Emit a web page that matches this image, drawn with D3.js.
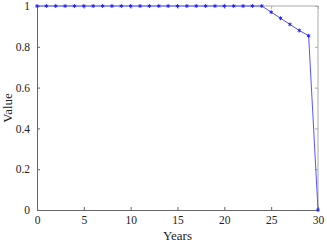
<!DOCTYPE html>
<html lang="en">
<head>
<meta charset="UTF-8">
<title>Value by year</title>
<style>
  body { margin: 0; background: #fff; }
  svg text { font-family: "Liberation Serif", "DejaVu Serif", serif !important; }
</style>
</head>
<body>
<svg width="327" height="242"></svg>
<script src="https://d3js.org/d3.v7.min.js"></script>
<script>
var years = d3.range(0, 31);
var values = [1, 1, 1, 1, 1, 1, 1, 1, 1, 1,
              1, 1, 1, 1, 1, 1, 1, 1, 1, 1,
              1, 1, 1, 1, 1, 0.97, 0.94, 0.91, 0.88, 0.854, 0];
var xTicks = [0, 5, 10, 15, 20, 25, 30];
var yTicks = [0, 0.2, 0.4, 0.6, 0.8, 1];

var marge = {top: 6, right: 9, bottom: 32, left: 37};
var svg = d3.select("svg");
var width = +svg.attr("width") - marge.left - marge.right;
var height = +svg.attr("height") - marge.top - marge.bottom;
var g = svg.append("g").attr("transform", "translate(" + marge.left + "," + marge.top + ")");

var x = d3.scaleLinear().domain([0, 30]).range([0, width]);
var y = d3.scaleLinear().domain([0, 1]).range([height, 0]);

// frame (top and right in grey)
g.append("line").attr("x1", 0).attr("x2", width).attr("y1", 0).attr("y2", 0)
  .attr("stroke", "#aaa");
g.append("line").attr("x1", width).attr("x2", width).attr("y1", 0).attr("y2", height)
  .attr("stroke", "#aaa");

// mirrored ticks
g.append("g").call(d3.axisTop(x).tickValues(xTicks).tickSize(-3).tickFormat(""))
  .call(function(a) { a.select(".domain").remove(); a.selectAll("line").attr("stroke", "#aaa"); });
g.append("g").attr("transform", "translate(" + width + ",0)")
  .call(d3.axisRight(y).tickValues(yTicks).tickSize(-3).tickFormat(""))
  .call(function(a) { a.select(".domain").remove(); a.selectAll("line").attr("stroke", "#aaa"); });

var xAxis = g.append("g").attr("transform", "translate(0," + height + ")")
  .call(d3.axisBottom(x).tickValues(xTicks).tickSize(-3).tickPadding(6).tickSizeOuter(0));
var yAxis = g.append("g")
  .call(d3.axisLeft(y).tickValues(yTicks).tickSize(-3).tickPadding(7).tickSizeOuter(0)
    .tickFormat(function(d) { return d3.format("")(d); }));
[xAxis, yAxis].forEach(function(a) {
  a.attr("font-family", "Liberation Serif").attr("font-size", 11.5);
  a.select(".domain").attr("stroke", "#666");
  a.selectAll("line").attr("stroke", "#666");
  a.selectAll("text").attr("fill", "#222");
});

svg.append("text").attr("x", marge.left + width / 2).attr("y", 240)
  .attr("text-anchor", "middle").attr("font-size", 13).attr("fill", "#222").text("Years");
svg.append("text").attr("transform", "translate(12," + (marge.top + height / 2) + ") rotate(-90)")
  .attr("text-anchor", "middle").attr("font-size", 13).attr("fill", "#222").text("Value");

var line = d3.line().x(function(d, i) { return x(years[i]); }).y(function(d) { return y(d); });
g.append("path").datum(values).attr("d", line)
  .attr("fill", "none").attr("stroke", "#5555ff").attr("stroke-width", 1);

g.selectAll(".pt").data(values).enter().append("path").attr("class", "pt")
  .attr("transform", function(d, i) { return "translate(" + x(years[i]) + "," + y(d) + ")"; })
  .attr("d", d3.symbol().type(d3.symbolAsterisk).size(10))
  .attr("fill", "none").attr("stroke", "#2222ff").attr("stroke-width", 1);
</script>
</body>
</html>
